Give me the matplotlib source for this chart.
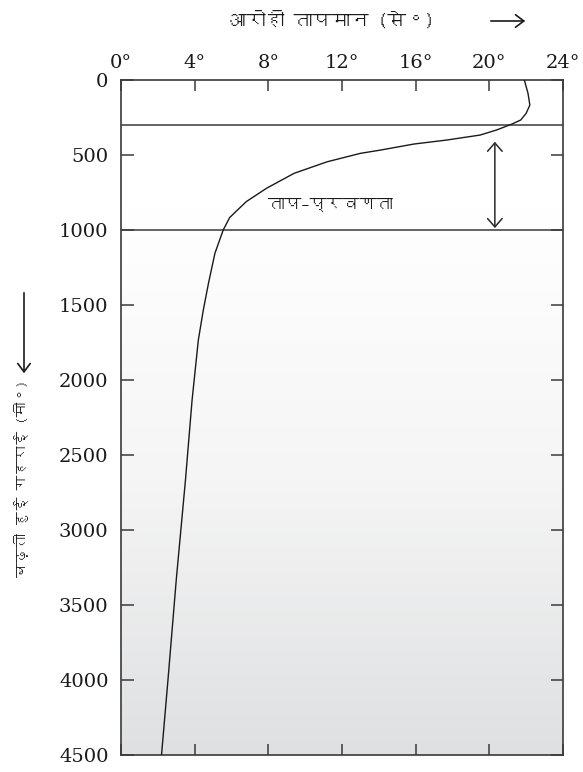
import numpy as np
import matplotlib
matplotlib.use("Agg")
import matplotlib.pyplot as plt
from matplotlib import font_manager as fm
from matplotlib.ft2font import FT2Font
from matplotlib.colors import LinearSegmentedColormap
from matplotlib.patches import FancyArrowPatch

# ---------------- data ----------------
depth_m = [0, 89, 167, 222, 267, 295, 333, 367, 400, 427, 467, 489, 545, 622,
           722, 811, 917, 1000, 1155, 1355, 1533, 1733, 2133, 2667, 3333,
           4000, 4500]
temp_c = [21.9, 22.1, 22.2, 22.0, 21.7, 21.2, 20.4, 19.5, 17.7, 15.9, 14.1,
          13.0, 11.2, 9.4, 7.9, 6.8, 5.9, 5.55, 5.1, 4.75, 4.47, 4.2, 3.86,
          3.5, 3.0, 2.55, 2.2]
x_ticks = [0, 4, 8, 12, 16, 20, 24]
x_tick_labels = ["0°", "4°", "8°", "12°", "16°", "20°", "24°"]
y_ticks = [0, 500, 1000, 1500, 2000, 2500, 3000, 3500, 4000, 4500]
thermocline_bounds = [300, 1000]
arrow_span = [412, 987]
arrow_temp = 20.3
title_text = "आरोही तापमान (से॰)"
ylabel_text = "बढ़ती हुई गहराई (मी॰)"
zone_label = "ताप–प्रवणता"


def find_font(ch):
    for f in fm.fontManager.ttflist:
        try:
            ft = FT2Font(f.fname)
            if ord(ch) in ft.get_charmap():
                return f.name
        except Exception:
            pass
    return None


deva = find_font("त")
hindi_family = ([deva] if deva else []) + ["DejaVu Sans"]

fig = plt.figure(figsize=(5.83, 7.72), dpi=100)
ax = fig.add_axes([121 / 583, 1 - 755 / 772, (563 - 121) / 583, 675 / 772])

# background gradient (white above ~850 m to light grey at bottom)
cmap = LinearSegmentedColormap.from_list("bg", ["#ffffff", "#f5f5f5", "#dfe0e2"])
grad = np.linspace(0, 1, 256).reshape(-1, 1)
ax.imshow(grad, extent=[0, 24, 4500, 850], cmap=cmap, aspect="auto",
          origin="upper", zorder=0)
ax.set_xlim(0, 24)
ax.set_ylim(4500, 0)

# profile
ax.plot(temp_c, depth_m, color="#1a1a1a", lw=1.0, zorder=3,
        solid_joinstyle="round")

# thermocline bounds
for d in thermocline_bounds:
    ax.axhline(d, color="#3a3a3a", lw=1.1, zorder=2)

# double arrow
ax.annotate("", xy=(arrow_temp, arrow_span[1]), xytext=(arrow_temp, arrow_span[0]),
            arrowprops=dict(arrowstyle="<->,head_length=0.4,head_width=0.35",
                            color="#2a2a2a", lw=1.1, mutation_scale=15,
                            shrinkA=0, shrinkB=0), zorder=4)
ax.text(11.35, 830, zone_label, ha="center", va="center", fontsize=12,
        family=hindi_family, color="#1a1a1a")

# ticks & spines
serif = ["DejaVu Serif"]
ax.set_xticks(x_ticks)
ax.set_xticklabels(x_tick_labels, family=serif, fontsize=14, color="#1a1a1a")
ax.set_yticks(y_ticks)
ax.set_yticklabels([str(v) for v in y_ticks], family=serif, fontsize=14,
                   color="#1a1a1a")
ax.tick_params(axis="x", direction="in", top=True, bottom=True, labeltop=True,
               labelbottom=False, length=8, width=1.1, color="#3a3a3a", pad=6)
ax.tick_params(axis="y", direction="in", left=True, right=True, labelleft=True,
               labelright=False, length=9, width=1.1, color="#3a3a3a", pad=9)
for s in ax.spines.values():
    s.set_color("#3a3a3a")
    s.set_linewidth(1.2)

# title with arrow
fig.text(331 / 583, 1 - 20 / 772, title_text, ha="center", va="center",
         fontsize=13.5, family=hindi_family, color="#1a1a1a")
fig.patches.append(FancyArrowPatch(
    (488 / 583, 1 - 21 / 772), (528 / 583, 1 - 21 / 772),
    transform=fig.transFigure, arrowstyle="->,head_length=0.4,head_width=0.3",
    mutation_scale=15, color="#1a1a1a", lw=1.2))

# y label with arrow
fig.text(22 / 583, 1 - 478 / 772, ylabel_text, ha="center", va="center",
         rotation=90, fontsize=10.5, family=hindi_family, color="#1a1a1a")
fig.patches.append(FancyArrowPatch(
    (24 / 583, 1 - 290 / 772), (24 / 583, 1 - 376 / 772),
    transform=fig.transFigure, arrowstyle="->,head_length=0.4,head_width=0.3",
    mutation_scale=15, color="#1a1a1a", lw=1.2))

fig.savefig("out.png", dpi=100, facecolor="white")
